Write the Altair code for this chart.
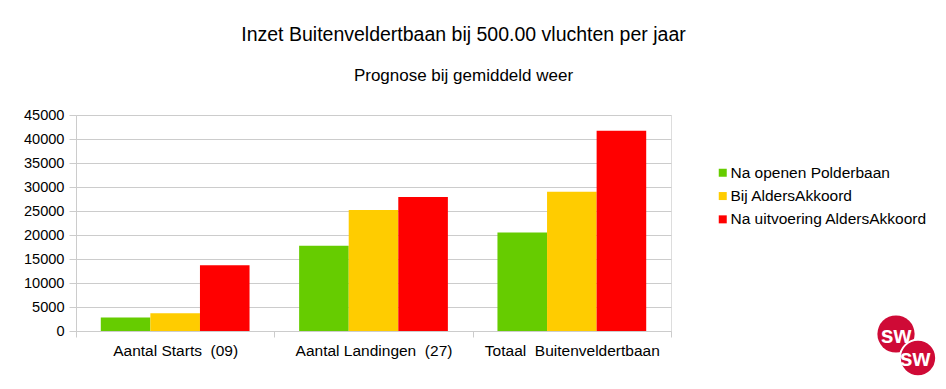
import altair as alt
import pandas as pd

categories = ["Aantal Starts\u00a0 (09)", "Aantal Landingen\u00a0 (27)", "Totaal\u00a0 Buitenveldertbaan"]
series = ["Na openen Polderbaan", "Bij AldersAkkoord", "Na uitvoering AldersAkkoord"]
colors = ["#66cc00", "#ffcc00", "#ff0000"]
values_polderbaan = [2800, 17750, 20500]
values_bij_alders = [3700, 25200, 29000]
values_na_alders = [13700, 27900, 41700]
y_ticks = [0, 5000, 10000, 15000, 20000, 25000, 30000, 35000, 40000, 45000]
logo_text_value = "sw"

rows = []
for s, vals in zip(series, [values_polderbaan, values_bij_alders, values_na_alders]):
    for c, v in zip(categories, vals):
        rows.append({"categorie": c, "reeks": s, "waarde": v})
df = pd.DataFrame(rows)

FONT = "Liberation Sans"
GRID = "#cccccc"

bars = alt.Chart(df).mark_bar().encode(
    x=alt.X("categorie:N", sort=categories,
            scale=alt.Scale(paddingInner=0, paddingOuter=0),
            axis=alt.Axis(title=None, labelAngle=0, tickBand="extent", tickSize=6,
                          tickColor=GRID, domainColor=GRID, labelFontSize=15.5,
                          labelFont=FONT, labelColor="black", labelPadding=6, grid=False)),
    xOffset=alt.XOffset("reeks:N", sort=series,
                        scale=alt.Scale(paddingInner=0, paddingOuter=0.5)),
    y=alt.Y("waarde:Q", scale=alt.Scale(domain=[0, 45000], nice=False),
            axis=alt.Axis(title=None, values=y_ticks, format="d", tickSize=7,
                          tickColor=GRID, domainColor=GRID, gridColor=GRID,
                          labelFontSize=14.6, labelFont=FONT, labelColor="black",
                          labelPadding=5)),
    color=alt.Color("reeks:N", sort=series,
                    scale=alt.Scale(domain=series, range=colors),
                    legend=alt.Legend(title=None, orient="none", legendX=639, legendY=50,
                                      symbolType="square", symbolSize=64,
                                      symbolStrokeWidth=0, labelFontSize=15.5,
                                      labelFont=FONT, labelColor="black", labelLimit=400,
                                      rowPadding=6.3, labelOffset=0, padding=0)),
)

logo_df = pd.DataFrame({"t": [logo_text_value]})
logo_red = "#cf0a36"
c1 = alt.Chart(logo_df).mark_circle(color=logo_red, opacity=1).encode(
    x=alt.value(820), y=alt.value(219), size=alt.value(1385))
t1 = alt.Chart(logo_df).mark_text(color="white", fontSize=23, fontWeight="bold",
                                  font=FONT, baseline="alphabetic", align="center").encode(
    x=alt.value(820), y=alt.value(228), text="t:N")
c2 = alt.Chart(logo_df).mark_circle(color=logo_red, opacity=1, stroke="white",
                                    strokeWidth=2).encode(
    x=alt.value(842), y=alt.value(243), size=alt.value(1320))
t2 = alt.Chart(logo_df).mark_text(color="white", fontSize=23, fontWeight="bold",
                                  font=FONT, baseline="alphabetic", align="center").encode(
    x=alt.value(839), y=alt.value(251), text="t:N")

chart = alt.layer(bars, c1, t1, c2, t2).properties(
    width=595, height=216,
    title=alt.TitleParams(
        text="Inzet Buitenveldertbaan bij 500.00 vluchten per jaar",
        subtitle="Prognose bij gemiddeld weer",
        fontSize=19.5, fontWeight="normal", font=FONT, color="black",
        subtitleFontSize=17, subtitleFont=FONT, subtitleColor="black",
        subtitlePadding=23, anchor="middle", dx=90, offset=22),
    autosize=alt.AutoSizeParams(type="none"),
    padding={"left": 68, "top": 107, "right": 267, "bottom": 50},
).configure_view(stroke=GRID).configure(background="white")

chart.save("out.html", embed_options={"renderer": "svg", "actions": False})
